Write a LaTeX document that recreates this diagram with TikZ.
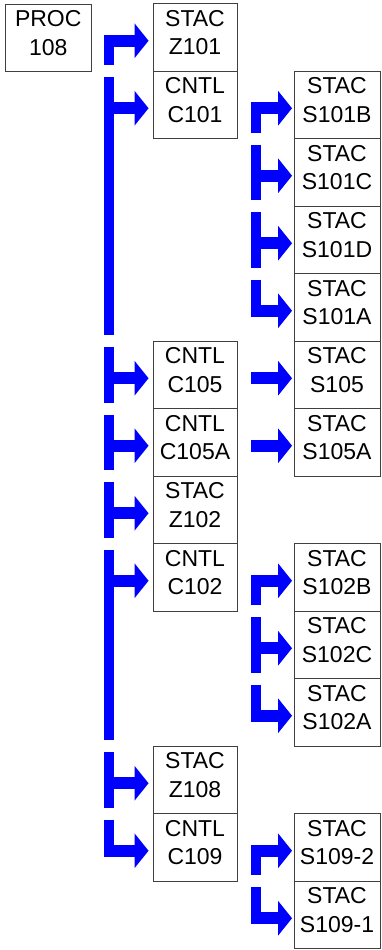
\documentclass[tikz,border=0pt]{standalone}
\usepackage{fontspec}
\setmainfont{Liberation Sans}
\usetikzlibrary{arrows.meta}
\newcommand{\nt}[2]{#1\\#2\rule[-10pt]{0pt}{0pt}}
\tikzset{
  box/.style={draw=black!75, line width=0.9pt, fill=white, minimum height=67.5pt,
    inner sep=0pt, align=center, font=\fontsize{23}{28.5}\selectfont},
  wa/.style={box, minimum width=86.5pt},
  wb/.style={box, minimum width=84pt},
  wc/.style={box, minimum width=86pt},
  trunk/.style={draw=blue, line width=10pt},
  conn/.style={draw=blue, line width=12pt, -{Triangle[length=14pt,width=34pt]}},
  c1/.style={conn, shorten >=4pt},
  c2/.style={conn, shorten >=1.5pt},
}
\begin{document}
\begin{tikzpicture}[x=1pt,y=-1pt]
\fill[white] (0,0) rectangle (381,950);
\useasboundingbox (0,0) rectangle (381,950);
% trunk reference coordinates
\coordinate (t1) at (109,0);
\coordinate (t2) at (256,0);
\coordinate (t2l) at (251,0);
% column 1
\node[wa] (proc108) at (48.25,37.75) {\nt{PROC}{108}};
% column 2
\node[wb] (z101)  at (195,37.25)  {\nt{STAC}{Z101}};
\node[wb] (c101)  at (195,104.75) {\nt{CNTL}{C101}};
\node[wb] (c105)  at (195,374.75) {\nt{CNTL}{C105}};
\node[wb] (c105a) at (195,442.25) {\nt{CNTL}{C105A}};
\node[wb] (z102)  at (195,509.75) {\nt{STAC}{Z102}};
\node[wb] (c102)  at (195,577.25) {\nt{CNTL}{C102}};
\node[wb] (z108)  at (195,779.75) {\nt{STAC}{Z108}};
\node[wb] (c109)  at (195,847.25) {\nt{CNTL}{C109}};
% column 3
\node[wc] (s101b) at (337,104.75) {\nt{STAC}{S101B}};
\node[wc] (s101c) at (337,172.25) {\nt{STAC}{S101C}};
\node[wc] (s101d) at (337,239.75) {\nt{STAC}{S101D}};
\node[wc] (s101a) at (337,307.25) {\nt{STAC}{S101A}};
\node[wc] (s105)  at (337,374.75) {\nt{STAC}{S105}};
\node[wc] (s105a) at (337,442.25) {\nt{STAC}{S105A}};
\node[wc] (s102b) at (337,577.25) {\nt{STAC}{S102B}};
\node[wc] (s102c) at (337,644.75) {\nt{STAC}{S102C}};
\node[wc] (s102a) at (337,712.25) {\nt{STAC}{S102A}};
\node[wc] (s1092) at (337,847.25) {\nt{STAC}{S109-2}};
\node[wc] (s1091) at (337,914.75) {\nt{STAC}{S109-1}};

% column 1 trunk segments
\draw[trunk] (109,34.75) -- (109,65);
\draw[trunk] (109,77) -- (109,335);
\draw[trunk] (109,347) -- (109,402.5);
\draw[trunk] (109,414.5) -- (109,470);
\draw[trunk] (109,482) -- (109,537.5);
\draw[trunk] (109,549.5) -- (109,740);
\draw[trunk] (109,752) -- (109,807.5);
\draw[trunk] (109,819.5) -- (109,856.75);
% column 1 connectors
\foreach \n in {z101,c101,c105,c105a,z102,c102,z108,c109}
  \draw[c1] ([yshift=-3.5pt]\n.west -| t1) -- ([yshift=-3.5pt]\n.west);

% column 2 trunk segments
\draw[trunk] (256,102.25) -- (256,132.5);
\draw[trunk] (256,144.5) -- (256,200);
\draw[trunk] (256,212) -- (256,267.5);
\draw[trunk] (256,279.5) -- (256,316.75);
\draw[trunk] (256,574.75) -- (256,605);
\draw[trunk] (256,617) -- (256,672.5);
\draw[trunk] (256,684.5) -- (256,721.75);
\draw[trunk] (256,844.75) -- (256,875);
\draw[trunk] (256,887) -- (256,924.25);
% column 2 connectors
\foreach \n in {s101b,s101c,s101d,s101a,s102b,s102c,s102a,s1092,s1091}
  \draw[c2] ([yshift=-3.5pt]\n.west -| t2) -- ([yshift=-3.5pt]\n.west);
\foreach \n in {s105,s105a}
  \draw[c2] ([yshift=-3.5pt]\n.west -| t2l) -- ([yshift=-3.5pt]\n.west);
\end{tikzpicture}
\end{document}
